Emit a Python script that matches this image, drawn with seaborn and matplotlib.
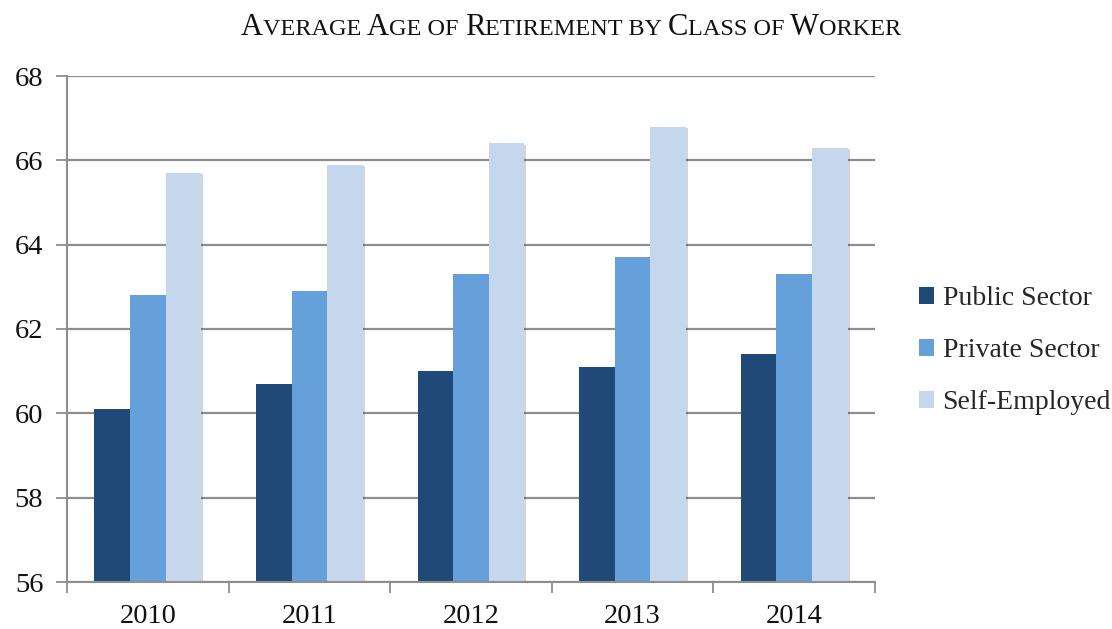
import matplotlib
matplotlib.use("Agg")
import matplotlib.pyplot as plt
import matplotlib.patheffects as pe
from matplotlib.patches import Patch
from matplotlib.ticker import FixedLocator
import seaborn as sns
import pandas as pd

# ---- data ----
years = ["2010", "2011", "2012", "2013", "2014"]
classes = ["Public Sector", "Private Sector", "Self-Employed"]
public_sector = [60.1, 60.7, 61.0, 61.1, 61.4]
private_sector = [62.8, 62.9, 63.3, 63.7, 63.3]
self_employed = [65.7, 65.9, 66.4, 66.8, 66.3]
y_ticks = [56, 58, 60, 62, 64, 66, 68]
title_text = "Average Age of Retirement by Class of Worker"

colors = ["#1F4A78", "#65A0DB", "#C4D7EC"]

df = pd.DataFrame({
    "Year": years * 3,
    "Class": [classes[0]] * 5 + [classes[1]] * 5 + [classes[2]] * 5,
    "Age": public_sector + private_sector + self_employed,
})

sns.set_theme(style="white")
plt.rcParams["font.family"] = ["Liberation Serif", "DejaVu Serif"]

W, H = 1112, 629
fig = plt.figure(figsize=(W / 100, H / 100), dpi=100)
ax = fig.add_axes([67 / W, 1 - 582 / H, (875 - 67) / W, (582 - 76) / H])

sns.barplot(data=df, x="Year", y="Age", hue="Class", order=years,
            hue_order=classes, palette=colors, saturation=1, width=0.66,
            gap=0, edgecolor="none", linewidth=0, ax=ax, legend=False,
            err_kws={"linewidth": 0})

for p in ax.patches:
    p.set_path_effects([pe.SimplePatchShadow(offset=(1.5, -1), alpha=0.18, shadow_rgbFace="k"),
                        pe.Normal()])
    p.set_zorder(3)

ax.set_ylim(56, 68)
ax.set_xlim(-0.5, 4.5)
ax.set_yticks(y_ticks)
ax.set_yticklabels([str(t) for t in y_ticks])
ax.yaxis.grid(True, color="#8E8E8E", linewidth=1.6)
ax.set_axisbelow(True)
ax.set_xlabel("")
ax.set_ylabel("")

# x ticks: labels at centers, tick marks at category boundaries
ax.xaxis.set_minor_locator(FixedLocator([i - 0.5 for i in range(len(years) + 1)]))
ax.tick_params(axis="x", which="major", length=0, labelsize=20.5, pad=16, colors="#111111")
ax.tick_params(axis="x", which="minor", length=8, width=1.3, color="#8E8E8E", bottom=True)
ax.tick_params(axis="y", which="major", length=8, width=1.3, color="#8E8E8E",
               labelsize=20.5, pad=9, left=True, labelcolor="#111111")

for s in ["top", "right"]:
    ax.spines[s].set_visible(False)
for s in ["left", "bottom"]:
    ax.spines[s].set_color("#8E8E8E")
    ax.spines[s].set_linewidth(1.5)
ax.spines["bottom"].set_zorder(4)

# legend
handles = [Patch(facecolor=c, edgecolor="none", label=l) for c, l in zip(colors, classes)]
fig.legend(handles=handles, loc="upper left", bbox_to_anchor=(919 / W, 1 - 286 / H),
           bbox_transform=fig.transFigure, frameon=False, fontsize=20,
           handlelength=0.55, handleheight=0.55, handletextpad=0.3,
           labelspacing=0.98, borderpad=0, borderaxespad=0)

# small-caps title
renderer = fig.canvas.get_renderer()
big, small = 22, 17.5
runs = []
for ch in title_text:
    if ch.isupper():
        runs.append((ch, big))
    elif ch == " ":
        runs.append((ch, small))
    else:
        runs.append((ch.upper(), small))
merged = []
for ch, sz in runs:
    if merged and merged[-1][1] == sz:
        merged[-1] = (merged[-1][0] + ch, sz)
    else:
        merged.append((ch, sz))

texts = []
for s, sz in merged:
    t = fig.text(0, 0, s, fontsize=sz, va="baseline", ha="left", color="#111111")
    texts.append(t)
widths = [t.get_window_extent(renderer).width for t in texts]
total = sum(widths)
cx = 571
x0 = cx - total / 2
ybase = 1 - 35 / H
for t, w in zip(texts, widths):
    t.set_position((x0 / W, ybase))
    x0 += w

fig.savefig("out.png", dpi=100)
